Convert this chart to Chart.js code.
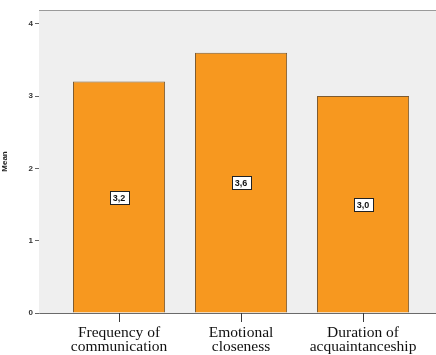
<!DOCTYPE html>
<html>
<head>
<meta charset="utf-8">
<script src="https://cdn.jsdelivr.net/npm/chart.js@4/dist/chart.umd.min.js"></script>
<style>
  html, body { margin: 0; padding: 0; background: #ffffff; }
  #wrap { width: 436px; height: 355px; position: relative; }
</style>
</head>
<body>
<div id="wrap"><canvas id="c" width="436" height="355"></canvas></div>
<script>
// Mean scores per relationship aspect
const categories = [
  ['Frequency of', 'communication'],
  ['Emotional', 'closeness'],
  ['Duration of', 'acquaintanceship']
];
const positions = [1, 2, 3];
const means = [3.2, 3.6, 3.0];
const yTicks = [0, 1, 2, 3, 4];

const points = positions.map((x, i) => ({ x: x, y: means[i] }));

// Plot background, top frame line, category tick marks and boxed value labels
const decor = {
  id: 'decor',
  beforeDatasetsDraw(chart) {
    const { ctx, chartArea: a } = chart;
    ctx.save();
    ctx.fillStyle = '#efefef';
    ctx.fillRect(a.left, a.top, a.right - a.left, a.bottom - a.top);
    ctx.strokeStyle = '#9a9a9a';
    ctx.lineWidth = 1;
    ctx.beginPath();
    ctx.moveTo(a.left, a.top + 0.5);
    ctx.lineTo(a.right, a.top + 0.5);
    ctx.stroke();
    ctx.restore();
  },
  afterDraw(chart) {
    const { ctx, chartArea: a } = chart;
    const meta = chart.getDatasetMeta(0);
    const xs = chart.scales.x;
    const ys = chart.scales.y;
    ctx.save();
    // category tick marks below the x axis
    ctx.fillStyle = '#3a3a3a';
    positions.forEach(p => {
      const px = Math.round(xs.getPixelForValue(p));
      ctx.fillRect(px, Math.round(a.bottom), 1, 9);
    });
    ctx.font = 'bold 9px "Liberation Sans", Arial, sans-serif';
    ctx.textAlign = 'center';
    ctx.textBaseline = 'middle';
    meta.data.forEach((bar, i) => {
      const v = means[i];
      const txt = v.toFixed(1).replace('.', ',');
      const cx = bar.x;
      const cy = ys.getPixelForValue(v / 2);
      const w = ctx.measureText(txt).width + 6;
      const h = 13;
      ctx.fillStyle = '#ffffff';
      ctx.fillRect(Math.round(cx - w / 2) + 0.5, Math.round(cy - h / 2) + 0.5, Math.round(w), h);
      ctx.strokeStyle = '#222222';
      ctx.lineWidth = 1;
      ctx.strokeRect(Math.round(cx - w / 2) + 0.5, Math.round(cy - h / 2) + 0.5, Math.round(w), h);
      ctx.fillStyle = '#111111';
      ctx.fillText(txt, cx, cy + 1);
    });
    ctx.restore();
  }
};

new Chart(document.getElementById('c'), {
  type: 'bar',
  data: {
    datasets: [{
      data: points,
      backgroundColor: '#f7981f',
      borderColor: '#7d5b31',
      borderWidth: 1,
      borderSkipped: 'bottom',
      barPercentage: 0.755,
      categoryPercentage: 1.0
    }]
  },
  options: {
    responsive: false,
    animation: false,
    layout: { padding: { top: 10, right: 0, left: 0, bottom: 0 } },
    plugins: { legend: { display: false }, tooltip: { enabled: false } },
    scales: {
      x: {
        type: 'linear',
        offset: false,
        min: 0.344,
        max: 3.598,
        afterBuildTicks(scale) { scale.ticks = positions.map(v => ({ value: v })); },
        afterFit(scale) { scale.height = 42; },
        ticks: {
          autoSkip: false,
          maxRotation: 0,
          padding: 8,
          color: '#111111',
          font: { family: '"Liberation Serif", "Times New Roman", serif', size: 15.5, lineHeight: 0.9 },
          callback: (v) => categories[positions.indexOf(v)] || ''
        },
        grid: { offset: false, display: true, drawOnChartArea: false, drawTicks: true, tickLength: 5, color: 'rgba(0,0,0,0)' },
        border: { display: true, color: '#6a6a6a', width: 1 }
      },
      y: {
        min: 0,
        max: 4.19,
        afterBuildTicks(scale) { scale.ticks = yTicks.map(v => ({ value: v })); },
        afterFit(scale) { scale.width = 39; },
        title: {
          display: true,
          text: 'Mean',
          color: '#222222',
          font: { family: '"Liberation Sans", Arial, sans-serif', size: 8, weight: 'bold' },
          padding: { top: 0, bottom: 8 }
        },
        ticks: {
          padding: 2,
          color: '#333333',
          font: { family: '"Liberation Sans", Arial, sans-serif', size: 8, weight: 'bold' }
        },
        grid: { drawOnChartArea: false, drawTicks: true, tickLength: 4, color: '#666666' },
        border: { display: true, color: '#8a8a8a', width: 1 }
      }
    }
  },
  plugins: [decor]
});
</script>
</body>
</html>
